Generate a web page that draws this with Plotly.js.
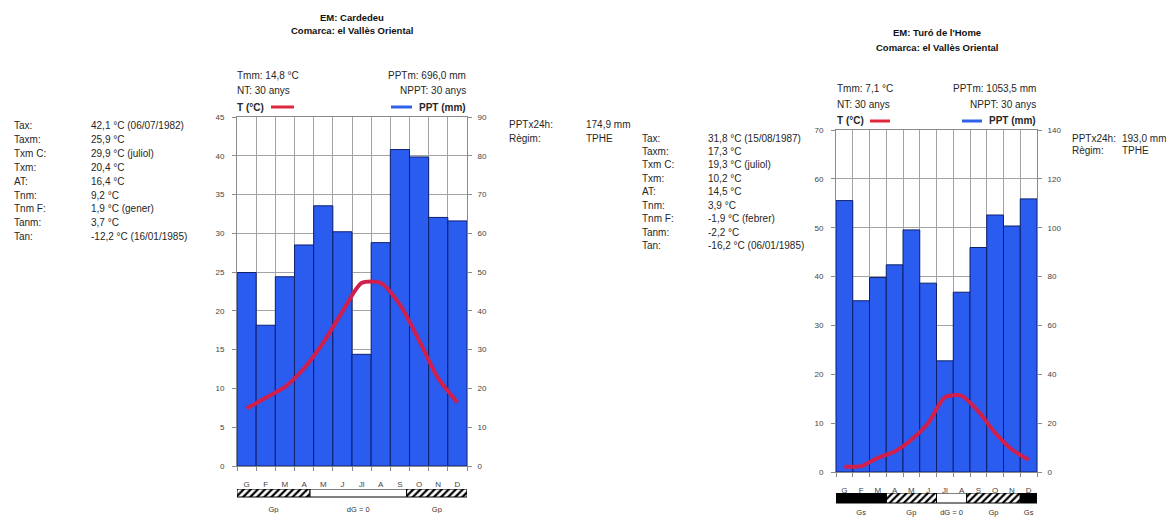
<!DOCTYPE html>
<html>
<head>
<meta charset="utf-8">
<script src="https://cdn.plot.ly/plotly-3.0.1.min.js"></script>
<style>html,body{margin:0;padding:0;background:#fff;}#chart{width:1166px;height:518px;}</style>
</head>
<body>
<div id="chart"></div>
<script>
// ---------- DATA ----------
const months = ['G','F','M','A','M','J','Jl','A','S','O','N','D'];

const cardedeuPPT = [49.9, 36.3, 48.8, 57.0, 67.1, 60.4, 28.8, 57.6, 81.6, 79.7, 64.1, 63.2];
const cardedeuT   = [7.4, 8.8, 10.2, 12.6, 15.9, 19.9, 23.6, 23.6, 20.8, 16.2, 11.3, 8.2];

const turoPPT = [111.1, 70.1, 79.6, 84.8, 99.1, 77.3, 45.5, 73.6, 91.9, 105.2, 100.7, 111.8];
const turoT   = [1.1, 1.2, 2.9, 4.2, 6.6, 10.0, 15.3, 15.6, 12.4, 8.0, 4.6, 2.5];

// frost periods (in month units, 0 = start of January, 12 = end of December)
const cardedeuFrostStart = [0, 3.8, 8.85];
const cardedeuFrostEnd   = [3.8, 8.85, 12];
const cardedeuFrostType  = ['Gp', 'dG = 0', 'Gp'];

const turoFrostStart = [0, 3, 6, 7.8, 11];
const turoFrostEnd   = [3, 6, 7.8, 11, 12];
const turoFrostType  = ['Gs', 'Gp', 'dG = 0', 'Gp', 'Gs'];

const statLabels = ['Tax:', 'Taxm:', 'Txm C:', 'Txm:', 'AT:', 'Tnm:', 'Tnm F:', 'Tanm:', 'Tan:'];
const cardedeuStats = ['42,1 °C (06/07/1982)', '25,9 °C', '29,9 °C (juliol)', '20,4 °C', '16,4 °C',
                       '9,2 °C', '1,9 °C (gener)', '3,7 °C', '-12,2 °C (16/01/1985)'];
const turoStats = ['31,8 °C (15/08/1987)', '17,3 °C', '19,3 °C (juliol)', '10,2 °C', '14,5 °C',
                   '3,9 °C', '-1,9 °C (febrer)', '-2,2 °C', '-16,2 °C (06/01/1985)'];

const cardedeuTitle = ['EM: Cardedeu', 'Comarca: el Vallès Oriental'];
const turoTitle     = ["EM: Turó de l'Home", 'Comarca: el Vallès Oriental'];
const cardedeuHeader = ['Tmm: 14,8 °C', 'PPTm: 696,0 mm', 'NT: 30 anys', 'NPPT: 30 anys'];
const turoHeader     = ['Tmm: 7,1 °C', 'PPTm: 1053,5 mm', 'NT: 30 anys', 'NPPT: 30 anys'];
const extraLabels = ['PPTx24h:', 'Règim:'];
const cardedeuExtra = ['174,9 mm', 'TPHE'];
const turoExtra     = ['193,0 mm', 'TPHE'];

// ---------- STYLE / LAYOUT HELPERS ----------
const W = 1166, H = 518;
const fx = p => p / W;
const fy = p => 1 - p / H;
const FONT = '"Liberation Sans", Arial, sans-serif';
const TXT = '#262626';
const BLUE = '#2b5cf0';
const BAR_LINE = '#0e1f6e';
const RED = '#d01f4c';
const GRID = '#a3a3a3';
const AXL = '#8a8a8a';

const monthPos = months.map((m, i) => i + 1);
const boundaryTicks = months.map((m, i) => i + 0.5).concat([months.length + 0.5]);

function mainX(domain, anchor) {
  return {
    domain: domain, anchor: anchor, range: [0.5, 12.5],
    tickmode: 'array', tickvals: monthPos, ticktext: months,
    ticks: '', showgrid: false, zeroline: false,
    showline: true, mirror: true, linecolor: AXL, linewidth: 1,
    tickfont: {family: FONT, size: 8, color: '#444'},
    ticklabelstandoff: 10,
    minor: {tickmode: 'array', tickvals: boundaryTicks, showgrid: true, gridcolor: GRID, gridwidth: 1,
            ticks: 'outside', ticklen: 4, tickcolor: AXL}
  };
}
function pptY(domain, anchor, max, dtick) {
  return {
    domain: domain, anchor: anchor, side: 'right', range: [0, max], dtick: dtick,
    showgrid: true, gridcolor: GRID, gridwidth: 1, zeroline: false,
    showline: true, mirror: true, linecolor: AXL, linewidth: 1,
    ticks: 'outside', ticklen: 4, tickcolor: AXL, ticklabelstandoff: 4,
    tickfont: {family: FONT, size: 8, color: '#444'}
  };
}
function tempY(overlay, anchor, max, dtick) {
  return {
    overlaying: overlay, anchor: anchor, side: 'left', range: [0, max], dtick: dtick,
    showgrid: false, zeroline: false, showline: false,
    ticks: 'outside', ticklen: 4, tickcolor: AXL, ticklabelstandoff: 6,
    tickfont: {family: FONT, size: 8, color: '#444'}
  };
}
function stripX(domain, anchor) {
  return {domain: domain, anchor: anchor, range: [0, 12], visible: false, fixedrange: true};
}
function stripY(domain, anchor, lo) {
  return {domain: domain, anchor: anchor, range: [lo, 1], visible: false, fixedrange: true};
}

const frostStyle = {
  'Gs': {color: '#000000'},
  'Gp': {color: '#ffffff', pattern: {shape: '/', fgcolor: '#000000', bgcolor: '#ffffff', size: 5, solidity: 0.45, fillmode: 'replace'}},
  'dG = 0': {color: '#ffffff'}
};

function stripTraces(starts, ends, types, xa, ya, labelY) {
  const out = [];
  ['dG = 0', 'Gp', 'Gs'].forEach(kind => {
    const idx = types.map((t, i) => t === kind ? i : -1).filter(i => i >= 0);
    if (!idx.length) return;
    const st = frostStyle[kind];
    const marker = {color: st.color, line: {color: '#000', width: 1}};
    if (st.pattern) marker.pattern = st.pattern;
    out.push({type: 'bar', x: idx.map(i => (starts[i] + ends[i]) / 2), y: idx.map(() => 1), base: 0,
              width: idx.map(i => ends[i] - starts[i]), xaxis: xa, yaxis: ya,
              showlegend: false, hoverinfo: 'skip', marker: marker});
  });
  out.push({type: 'scatter', mode: 'text', x: starts.map((s, i) => (s + ends[i]) / 2),
            y: types.map(() => labelY), text: types, xaxis: xa, yaxis: ya,
            showlegend: false, hoverinfo: 'skip', textfont: {family: FONT, size: 7.5, color: '#333'}});
  return out;
}

// ---------- TRACES ----------
const traces = [
  {type: 'bar', x: monthPos, y: cardedeuPPT, xaxis: 'x', yaxis: 'y', name: 'PPT (mm)',
   marker: {color: BLUE, line: {color: BAR_LINE, width: 1}}, showlegend: false},
  {type: 'scatter', mode: 'lines', x: monthPos, y: cardedeuT, xaxis: 'x', yaxis: 'y2', name: 'T (°C)',
   line: {color: RED, width: 4, shape: 'spline', smoothing: 0.7}, showlegend: false},
  ...stripTraces(cardedeuFrostStart, cardedeuFrostEnd, cardedeuFrostType, 'x3', 'y3', -1.65),
  {type: 'bar', x: monthPos, y: turoPPT, xaxis: 'x4', yaxis: 'y4', name: 'PPT (mm)',
   marker: {color: BLUE, line: {color: BAR_LINE, width: 1}}, showlegend: false},
  {type: 'scatter', mode: 'lines', x: monthPos, y: turoT, xaxis: 'x4', yaxis: 'y5', name: 'T (°C)',
   line: {color: RED, width: 4, shape: 'spline', smoothing: 0.7}, showlegend: false},
  ...stripTraces(turoFrostStart, turoFrostEnd, turoFrostType, 'x6', 'y6', -1.0)
];

// ---------- ANNOTATIONS ----------
const annotations = [];
function txt(text, x, y, xanchor, opts) {
  opts = opts || {};
  annotations.push({
    xref: 'paper', yref: 'paper', x: fx(x), y: fy(y), xanchor: xanchor, yanchor: 'middle',
    text: text, showarrow: false, borderpad: 0,
    font: {family: FONT, size: opts.size || 10, color: opts.color || TXT}
  });
}
// titles
txt('<b>' + cardedeuTitle[0] + '</b>', 352, 17, 'center', {size: 9.5, color: '#111'});
txt('<b>' + cardedeuTitle[1] + '</b>', 352, 31, 'center', {size: 9.5, color: '#111'});
txt('<b>' + turoTitle[0] + '</b>', 937, 33, 'center', {size: 9.5, color: '#111'});
txt('<b>' + turoTitle[1] + '</b>', 937, 47, 'center', {size: 9.5, color: '#111'});
// headers
txt(cardedeuHeader[0], 236, 75, 'left');
txt(cardedeuHeader[1], 467, 75, 'right');
txt(cardedeuHeader[2], 236, 91, 'left');
txt(cardedeuHeader[3], 467, 91, 'right');
txt('<b>T (°C)</b>', 236, 107, 'left');
txt('<b>PPT (mm)</b>', 467, 107, 'right');
txt(turoHeader[0], 836, 88, 'left');
txt(turoHeader[1], 1037, 88, 'right');
txt(turoHeader[2], 836, 104, 'left');
txt(turoHeader[3], 1037, 104, 'right');
txt('<b>T (°C)</b>', 836, 121, 'left');
txt('<b>PPT (mm)</b>', 1037, 121, 'right');
// stats
statLabels.forEach((l, i) => {
  const yL = 126 + i * 13.8;
  txt(l, 13, yL, 'left');
  txt(cardedeuStats[i], 90, yL, 'left');
  const yR = 138 + i * 13.5;
  txt(l, 641, yR, 'left');
  txt(turoStats[i], 707, yR, 'left');
});
extraLabels.forEach((l, i) => {
  txt(l, 508, 125 + i * 13, 'left');
  txt(cardedeuExtra[i], 585, 125 + i * 13, 'left');
  txt(l, 1071, 138 + i * 12.5, 'left');
  txt(turoExtra[i], 1121, 138 + i * 12.5, 'left');
});

// legend line samples
const shapes = [
  {type: 'line', xref: 'paper', yref: 'paper', x0: fx(271), x1: fx(294), y0: fy(107), y1: fy(107),
   line: {color: '#e0283c', width: 3}},
  {type: 'line', xref: 'paper', yref: 'paper', x0: fx(391), x1: fx(412), y0: fy(107), y1: fy(107),
   line: {color: '#2f62e8', width: 3}},
  {type: 'line', xref: 'paper', yref: 'paper', x0: fx(870), x1: fx(890), y0: fy(121), y1: fy(121),
   line: {color: '#e0283c', width: 3}},
  {type: 'line', xref: 'paper', yref: 'paper', x0: fx(962), x1: fx(982), y0: fy(121), y1: fy(121),
   line: {color: '#2f62e8', width: 3}}
];

// ---------- LAYOUT ----------
const leftDom = [fx(237), fx(467)];
const rightDom = [fx(836), fx(1037)];
const layout = {
  width: W, height: H,
  margin: {l: 0, r: 0, t: 0, b: 0, pad: 0},
  paper_bgcolor: '#fff', plot_bgcolor: '#fff',
  bargap: 0, barmode: 'overlay', showlegend: false,
  font: {family: FONT, size: 10, color: TXT},
  xaxis: mainX(leftDom, 'y'),
  yaxis: pptY([fy(466), fy(117)], 'x', 90, 10),
  yaxis2: tempY('y', 'x', 45, 5),
  xaxis3: stripX(leftDom, 'y3'),
  yaxis3: stripY([fy(513), fy(489)], 'x3', -2),
  xaxis4: mainX(rightDom, 'y4'),
  yaxis4: pptY([fy(472), fy(130)], 'x4', 140, 20),
  yaxis5: tempY('y4', 'x4', 70, 10),
  xaxis6: stripX(rightDom, 'y6'),
  yaxis6: stripY([0, fy(493)], 'x6', -1.5),
  annotations: annotations,
  shapes: shapes
};

Plotly.newPlot('chart', traces, layout, {staticPlot: true, displayModeBar: false});
</script>
</body>
</html>
